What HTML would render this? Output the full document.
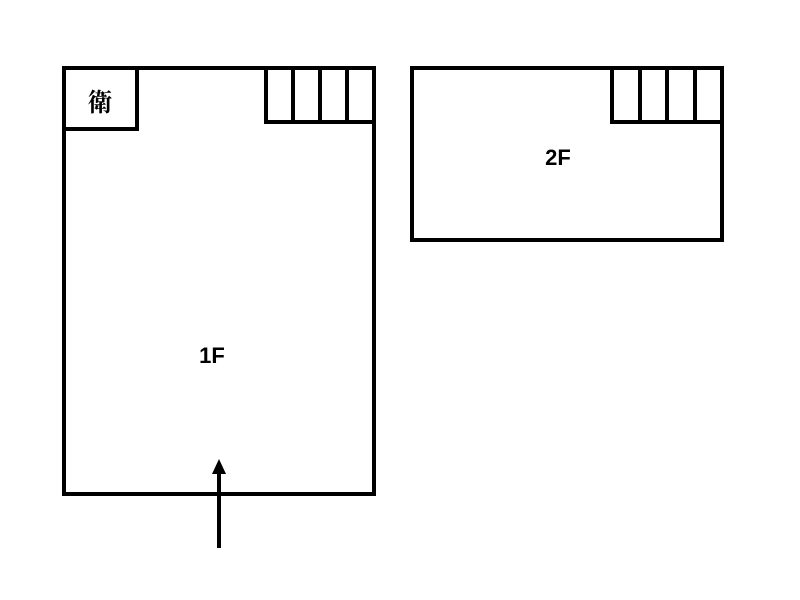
<!DOCTYPE html>
<html><head><style>body{margin:0;background:#fff}svg{display:block}</style></head><body>
<svg width="800" height="600" viewBox="0 0 800 600" xmlns="http://www.w3.org/2000/svg">
<g fill="none" stroke="#000" stroke-width="4">
<rect x="64" y="68" width="310" height="426"/>
<polyline points="64,129 137,129 137,68"/>
<polyline points="266,68 266,122 374,122"/>
<line x1="293" y1="68" x2="293" y2="122"/>
<line x1="320" y1="68" x2="320" y2="122"/>
<line x1="347" y1="68" x2="347" y2="122"/>
<rect x="412" y="68" width="310" height="172"/>
<polyline points="612,68 612,122 722,122"/>
<line x1="640" y1="68" x2="640" y2="122"/>
<line x1="667" y1="68" x2="667" y2="122"/>
<line x1="695" y1="68" x2="695" y2="122"/>
<line x1="219" y1="548" x2="219" y2="472"/>
</g>
<polygon points="219,459 212,474 226,474" fill="#000"/>
<text x="100" y="111" font-family="'Liberation Serif','Noto Serif CJK SC',serif" font-size="25" font-weight="bold" text-anchor="middle">衛</text>
<text x="212" y="363" font-family="'Liberation Sans',sans-serif" font-size="22" font-weight="bold" text-anchor="middle">1F</text>
<text x="558" y="165" font-family="'Liberation Sans',sans-serif" font-size="22" font-weight="bold" text-anchor="middle">2F</text>
</svg>
</body></html>
